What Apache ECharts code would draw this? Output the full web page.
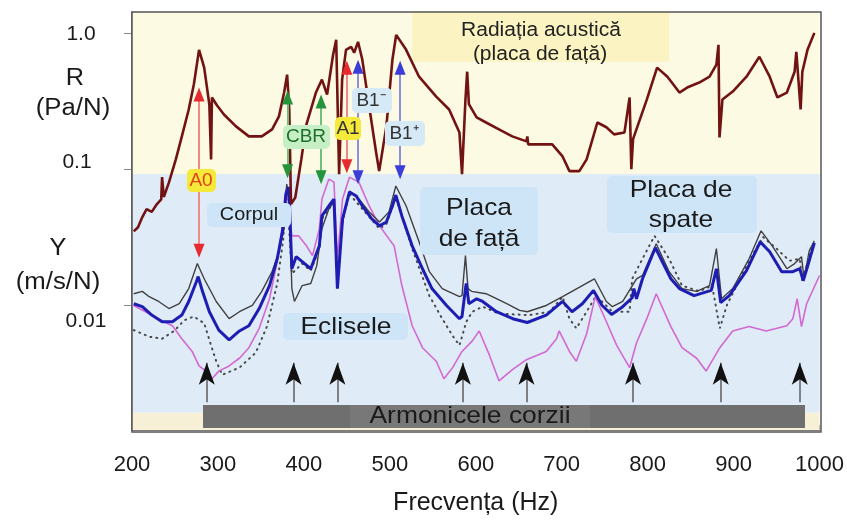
<!DOCTYPE html>
<html><head><meta charset="utf-8">
<script src="https://cdn.jsdelivr.net/npm/echarts@6/dist/echarts.min.js"></script>
<style>html,body{margin:0;padding:0;background:#fff}#c{width:847px;height:521px}</style>
</head><body><div id="c"></div>
<script>
// ---------- data (frequency Hz, value) ----------
const xTickValues = [200, 300, 400, 500, 600, 700, 800, 900, 1000];
const yMajorTicks = [0.01, 0.1, 1];
const yMinorTicks = [0.002,0.003,0.004,0.005,0.006,0.007,0.008,0.009,
                     0.02,0.03,0.04,0.05,0.06,0.07,0.08,0.09,
                     0.2,0.3,0.4,0.5,0.6,0.7,0.8,0.9];
const yLabelTexts = ['1.0', '0.1', '0.01'];

// R – acoustic radiation (Pa/N)
const radiation = [[202,0.035],[207,0.0375],[212,0.0445],[217,0.051],[223,0.0486],[229,0.0555],[234,0.060],[235,0.0874],[237,0.0625],[243,0.080],[251,0.118],[258,0.174],[266,0.274],[272,0.42],[278,0.75],[284,0.556],[290,0.298],[292,0.118],[293,0.336],[299,0.293],[307,0.252],[321,0.206],[336,0.174],[351,0.174],[363,0.196],[371,0.244],[377,0.365],[380.5,0.494],[383,0.274],[385,0.0555],[390,0.062],[397,0.118],[403,0.213],[414,0.365],[421,0.454],[427,0.353],[434,0.691],[437.6,0.889],[441,0.092],[444.5,0.454],[449,0.751],[455,0.791],[458.5,0.715],[463,0.86],[468,0.635],[476,0.288],[484,0.133],[487.6,0.0967],[496,0.206],[503,0.635],[507.4,0.967],[519,0.751],[534,0.477],[554,0.341],[569,0.274],[581,0.186],[584,0.092],[588,0.324],[590,0.519],[592,0.30],[601,0.24],[612,0.22],[627,0.196],[642.5,0.174],[659,0.16],[660,0.174],[661,0.152],[689,0.152],[701,0.124],[709,0.0967],[720.5,0.0967],[729,0.118],[741.5,0.22],[752,0.203],[761,0.18],[773,0.186],[779,0.336],[781,0.1],[783,0.166],[799,0.324],[811,0.556],[823,0.477],[837,0.365],[846,0.397],[860,0.432],[872,0.477],[880,0.584],[882.4,0.817],[883.6,0.171],[887,0.324],[899,0.371],[915,0.477],[930,0.668],[942,0.477],[951,0.336],[962,0.365],[971,0.519],[973,0.727],[978,0.274],[980,0.519],[986,0.751],[994,1.0]];

// Y – mobility, thick blue (m/s/N)
const mobilityBlue = [[202,0.0103],[212,0.0098],[223,0.0085],[235,0.0076],[247,0.0076],[258,0.0085],[266,0.0107],[275,0.0150],[277,0.0163],[282,0.0127],[290,0.0090],[301,0.0066],[313,0.0056],[325,0.0065],[336,0.0071],[348,0.0095],[360,0.0140],[369,0.0220],[375,0.0347],[379,0.0657],[382,0.0739],[383,0.0604],[386,0.0186],[391,0.0228],[398,0.0210],[408,0.0186],[418,0.0274],[421,0.0454],[429,0.0537],[435,0.0604],[439,0.0133],[445,0.0432],[453,0.0680],[461,0.0635],[468,0.0537],[479,0.0432],[488,0.0384],[496,0.0410],[503,0.0537],[507,0.0646],[514,0.0454],[526,0.0274],[538,0.0186],[549,0.0133],[566,0.0100],[581,0.0080],[584,0.0083],[588,0.0133],[589,0.0145],[592,0.0103],[601,0.0112],[608,0.0107],[624,0.0090],[643,0.0080],[660,0.0075],[682,0.0085],[701,0.0107],[712,0.0090],[724,0.0103],[737,0.0129],[747,0.0100],[758,0.0086],[771,0.0098],[782,0.0114],[784,0.0133],[787,0.0112],[794,0.0157],[809,0.0265],[827,0.0157],[837,0.0133],[854,0.0118],[874,0.0129],[880,0.0186],[885,0.0105],[895,0.0118],[915,0.0180],[931,0.0293],[942,0.0248],[956,0.0177],[969,0.0177],[977,0.0186],[981,0.0152],[986,0.0193],[994,0.0288]];

// thin dark grey curve
const mobilityGrey = [[202,0.0122],[212,0.0127],[220,0.0116],[231,0.0107],[243,0.0095],[255,0.0103],[266,0.0133],[276,0.0203],[284,0.0157],[298,0.0107],[313,0.0080],[325,0.0090],[340,0.0100],[351,0.0127],[363,0.0177],[371,0.0248],[377,0.0365],[380,0.0778],[383,0.0604],[386,0.0133],[389,0.0107],[398,0.0140],[408,0.0145],[415,0.0196],[421,0.0365],[429,0.0511],[435,0.0574],[439,0.0140],[445,0.0410],[453,0.0691],[464,0.0604],[476,0.0486],[488,0.0410],[499,0.0486],[507,0.0752],[519,0.0537],[534,0.0293],[546,0.0177],[561,0.0133],[581,0.0116],[584,0.0118],[588,0.0232],[591,0.0133],[595,0.0127],[612,0.0122],[636,0.0103],[651,0.0092],[660,0.0090],[682,0.0100],[701,0.0116],[712,0.0127],[738,0.0157],[752,0.0107],[759,0.0098],[771,0.0107],[787,0.0157],[794,0.0166],[810,0.0284],[825,0.0177],[840,0.0133],[857,0.0127],[872,0.0140],[880,0.0261],[886,0.0112],[899,0.0133],[918,0.0220],[932,0.0353],[945,0.0274],[962,0.0186],[971,0.0203],[979,0.0228],[982,0.0157],[988,0.0252],[994,0.0298]];

// magenta curve
const mobilityMagenta = [[202,0.0100],[220,0.0087],[237,0.0076],[247,0.0071],[258,0.0057],[270,0.0046],[278,0.0036],[286,0.0033],[293,0.0029],[301,0.0033],[313,0.0036],[325,0.0041],[336,0.0049],[348,0.0068],[360,0.0112],[368,0.0196],[375,0.0384],[380,0.0739],[384,0.0432],[386,0.0324],[394,0.0324],[403,0.0274],[410,0.0232],[418,0.0365],[421,0.0604],[429,0.0845],[435,0.0804],[439,0.0220],[445,0.0604],[453,0.0874],[464,0.0804],[476,0.0537],[488,0.0384],[499,0.0308],[505,0.0274],[514,0.0140],[526,0.0071],[538,0.0049],[554,0.0039],[563,0.0029],[573,0.0035],[584,0.0046],[596,0.0055],[604,0.0065],[616,0.0043],[627,0.0028],[643,0.0034],[659,0.0040],[682,0.0046],[694,0.0057],[697,0.0065],[709,0.0046],[717,0.0039],[729,0.0062],[739,0.0116],[752,0.0076],[764,0.0051],[779,0.0035],[787,0.0053],[799,0.0080],[810,0.0122],[827,0.0070],[840,0.0049],[857,0.0041],[868,0.0033],[884,0.0049],[899,0.0065],[918,0.0070],[938,0.0065],[962,0.0071],[969,0.0080],[974,0.0112],[979,0.0070],[985,0.0103],[1000,0.0166]];

// dotted curve
const mobilityDotted = [[202,0.0066],[220,0.0059],[235,0.0057],[249,0.0065],[261,0.0078],[272,0.0083],[284,0.0074],[292,0.0051],[298,0.0039],[305,0.0031],[325,0.0035],[344,0.0045],[357,0.0070],[369,0.0145],[376,0.0308],[380,0.0715],[386,0.0171],[398,0.0203],[408,0.0180],[418,0.0261],[421,0.0432],[435,0.0574],[439,0.0145],[445,0.0420],[453,0.0657],[468,0.0511],[488,0.0365],[496,0.0397],[507,0.0625],[526,0.0261],[546,0.0118],[561,0.0080],[573,0.0060],[581,0.0051],[589,0.0076],[596,0.0090],[608,0.0098],[627,0.0087],[662,0.0085],[686,0.0090],[701,0.0116],[709,0.0080],[717,0.0068],[729,0.0090],[740,0.0118],[759,0.0090],[779,0.0090],[782,0.0157],[794,0.0220],[808,0.0324],[825,0.0220],[840,0.0140],[860,0.0127],[875,0.0140],[884,0.0068],[892,0.0100],[915,0.0196],[934,0.0319],[950,0.0261],[965,0.0213],[977,0.0220],[980,0.0150],[992,0.0284]];

// string harmonics (black arrows) and mode arrows
const harmonics = [287, 388, 439, 585, 659, 783, 885, 977];
const harmonicArrow = [0.00195, 0.0038];
const redModes = [[278, 0.353, 0.0252], [450, 0.556, 0.105]];
const greenModes = [[381, 0.336, 0.0967], [420, 0.314, 0.0874]];
const blueModes = [[463, 0.565, 0.0874], [512, 0.556, 0.0951]];

// ---------- layout ----------
const W = 847, H = 521;
const G = {left: 132, top: 12, right: 26, bottom: 89};
const yMin = 0.00122, yMax = 1.423;
const FONT = '"Liberation Sans", Arial, sans-serif';

const chart = echarts.init(document.getElementById('c'), null, {renderer: 'canvas'});

function arrowSeries(name, list, lineColor, headColor, symbol, size, width) {
  return [{
    name: name + 'Line', type: 'line', data: [], z: 6, silent: true,
    markLine: {
      silent: true, animation: false, symbol: 'none',
      label: {show: false}, emphasis: {disabled: true},
      lineStyle: {color: lineColor, width: width, type: 'solid'},
      data: list.map(m => [{coord: [m[0], m[1]]}, {coord: [m[0], m[2]]}])
    }
  }, {
    name: name + 'Head', type: 'line', data: [], z: 7, silent: true,
    markLine: {
      silent: true, animation: false, symbol: symbol, symbolSize: size,
      label: {show: false}, emphasis: {disabled: true},
      lineStyle: {color: headColor, width: 0, opacity: 1},
      data: list.map(m => [{coord: [m[0], m[1]]}, {coord: [m[0], m[2]]}])
    }
  }];
}

function box(x, y, w, h, fill) {
  return {type: 'rect', z: 90, silent: true, shape: {x, y, width: w, height: h, r: 5}, style: {fill}};
}
function txt(x, y, t, size, color, sx, weight) {
  return {type: 'text', z: 100, silent: true, x, y, scaleX: sx || 1,
    style: {text: t, fill: color || '#1a1a1a', font: (weight || 'normal') + ' ' + size + 'px ' + FONT,
      align: 'center', verticalAlign: 'middle'}};
}

const plotW = W - G.left - G.right, plotH = H - G.top - G.bottom;

const graphics = [
  {type: 'rect', z: 80, silent: true, shape: {x: G.left, y: G.top, width: plotW, height: plotH},
    style: {fill: null, stroke: '#555', lineWidth: 1.5}},
  txt(81, 34, yLabelTexts[0], 21, '#1a1a1a'),
  txt(75, 79, 'R', 23, '#1a1a1a', 1.1),
  txt(73, 109, '(Pa/N)', 23, '#1a1a1a', 1.12),
  txt(77, 162, yLabelTexts[1], 21, '#1a1a1a'),
  txt(58, 249, 'Y', 23, '#1a1a1a', 1.1),
  txt(58, 283, '(m/s/N)', 23, '#1a1a1a', 1.12),
  txt(86, 321, yLabelTexts[2], 21, '#1a1a1a'),
  txt(541, 30, 'Radiația acustică', 20, '#222', 1.05),
  txt(540, 54, '(placa de față)', 20, '#222', 1.05),
  box(207, 203, 84, 24, '#cde5f7'), txt(249, 215, 'Corpul', 18, '#1a1a1a', 1.1),
  box(420, 187, 118, 68, '#cde5f7'), txt(479, 208, 'Placa', 24, '#1a1a1a', 1.1), txt(479, 239, 'de față', 24, '#1a1a1a', 1.1),
  box(607, 176, 150, 57, '#cde5f7'), txt(681, 190, 'Placa de', 24, '#1a1a1a', 1.1), txt(681, 220, 'spate', 24, '#1a1a1a', 1.1),
  box(283, 313, 125, 27, '#cde5f7'), txt(346, 327, 'Eclisele', 24, '#1a1a1a', 1.1),
  box(187, 169, 29, 23, '#f5ea3a'), txt(201, 181, 'A0', 19, '#e4401c'),
  box(283, 125, 47, 24, '#c6efc6'), txt(306, 137, 'CBR', 19, '#1f6e2c'),
  box(335, 117, 26, 23, '#f5ea3a'), txt(348, 129, 'A1', 19, '#333'),
  box(352, 88, 40, 25, '#d5e9f7'), txt(371, 101, 'B1\u207B', 19, '#333'),
  box(385, 121, 40, 25, '#d5e9f7'), txt(404, 134, 'B1\u207A', 19, '#333'),
  {type: 'rect', z: 5, silent: true, shape: {x: 203, y: 405, width: 602, height: 23}, style: {fill: '#6f6f6f'}},
  {type: 'rect', z: 5, silent: true, shape: {x: 350, y: 405, width: 240, height: 23}, style: {fill: '#787878'}},
  txt(470, 416, 'Armonicele corzii', 24, '#1a1a1a', 1.1)
];

const option = {
  animation: false,
  backgroundColor: '#ffffff',
  grid: {left: G.left, top: G.top, right: G.right, bottom: G.bottom, show: false},
  xAxis: {
    type: 'value', min: 200, max: 1000, interval: 100,
    axisLine: {show: true, lineStyle: {color: '#555', width: 1.5}},
    axisTick: {show: true, inside: true, length: 5, lineStyle: {color: '#888'}},
    minorTick: {show: true, splitNumber: 5, length: 4, lineStyle: {color: '#888'}},
    splitLine: {show: false},
    axisLabel: {fontSize: 22, color: '#1a1a1a', fontFamily: FONT, margin: 24,
      customValues: xTickValues, formatter: v => String(v)},
    name: 'Frecvența (Hz)', nameLocation: 'middle', nameGap: 61,
    nameTextStyle: {fontSize: 25, color: '#1a1a1a', fontFamily: FONT}
  },
  yAxis: [{
    type: 'log', min: yMin, max: yMax,
    axisLine: {show: true, lineStyle: {color: '#555', width: 1.5}},
    axisTick: {show: true, inside: false, length: 8, customValues: yMajorTicks, lineStyle: {color: '#888'}},
    axisLabel: {show: false},
    splitLine: {show: false}
  }, {
    type: 'log', min: yMin, max: yMax, position: 'left',
    axisLine: {show: false},
    axisTick: {show: true, inside: true, length: 4, customValues: yMinorTicks, lineStyle: {color: '#999'}},
    axisLabel: {show: false},
    splitLine: {show: false}
  }],
  graphic: graphics,
  series: [
    {
      name: 'bands', type: 'line', data: [], z: 1, silent: true,
      markArea: {
        silent: true,
        data: [
          [{yAxis: 0.092, itemStyle: {color: '#fcfae2'}}, {yAxis: yMax}],
          [{coord: [526, 0.614], itemStyle: {color: '#fbf4c2'}}, {coord: [825, yMax]}],
          [{yAxis: 0.00163, itemStyle: {color: '#e0ebf8'}}, {yAxis: 0.092}],
          [{yAxis: yMin, itemStyle: {color: '#f6f1d6'}}, {yAxis: 0.00163}]
        ]
      }
    },
    {name: 'dotted', type: 'line', data: mobilityDotted, z: 3, symbol: 'none', silent: true,
      lineStyle: {color: '#4a4a4a', width: 2, type: [1, 5], cap: 'round'}},
    {name: 'magenta', type: 'line', data: mobilityMagenta, z: 3, symbol: 'none', silent: true,
      lineStyle: {color: '#d268d2', width: 1.6}},
    {name: 'grey', type: 'line', data: mobilityGrey, z: 3, symbol: 'none', silent: true,
      lineStyle: {color: '#404040', width: 1.4}},
    {name: 'blue', type: 'line', data: mobilityBlue, z: 3, symbol: 'none', silent: true,
      lineStyle: {color: '#1d1db2', width: 3}},
    {name: 'R', type: 'line', data: radiation, z: 4, symbol: 'none', silent: true,
      lineStyle: {color: '#721313', width: 2.6}},
    ...arrowSeries('harm', harmonics.map(f => [f, harmonicArrow[0], harmonicArrow[1]]), '#666', '#111', ['none', 'arrow'], [12, 22], 1.6),
    ...arrowSeries('red', redModes, '#ec8a8a', '#e62a30', ['triangle', 'triangle'], [11, 14], 2),
    ...arrowSeries('green', greenModes, '#6cc27a', '#25933a', ['triangle', 'triangle'], [11, 14], 2),
    ...arrowSeries('blueArr', blueModes, '#8f8fe2', '#3c3cd6', ['triangle', 'triangle'], [11, 14], 2)
  ]
};
chart.setOption(option);
</script>
</body></html>
